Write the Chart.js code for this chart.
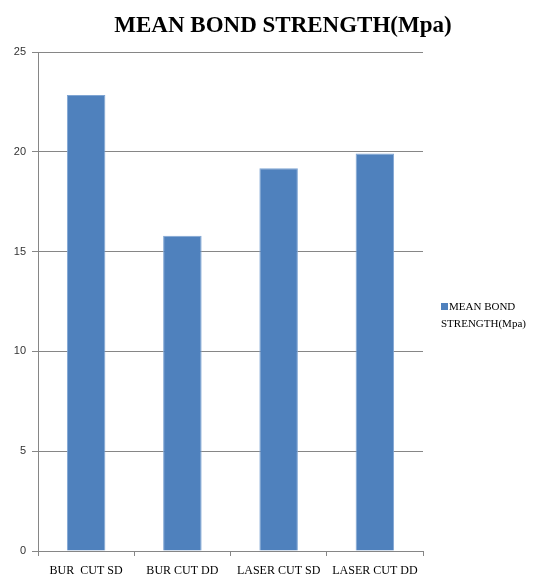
<!DOCTYPE html>
<html>
<head>
<meta charset="utf-8">
<script src="https://cdn.jsdelivr.net/npm/chart.js@4/dist/chart.umd.min.js"></script>
<style>
  html, body { margin: 0; padding: 0; background: #fff; }
  #wrap { position: relative; width: 554px; height: 576px; }
  #title { position: absolute; left: 0; top: 12px; width: 566px; text-align: center; font: bold 23px "Liberation Serif", serif; line-height: 26px; color: #000; }
  #legend { position: absolute; left: 441px; top: 298px; font: 11px "Liberation Serif", serif; color: #000; line-height: 17px; }
  #legend .box { display: inline-block; width: 7px; height: 7px; background: #4F81BD; margin-right: 1px; vertical-align: 0px; }
</style>
</head>
<body>
<div id="wrap">
  <canvas id="c" width="554" height="576"></canvas>
  <div id="title">MEAN BOND STRENGTH(Mpa)</div>
  <div id="legend"><span class="box"></span>MEAN BOND<br>STRENGTH(Mpa)</div>
</div>
<script>
  const categories = ['BUR  CUT SD', 'BUR CUT DD', 'LASER CUT SD', 'LASER CUT DD'];
  const seriesName = 'MEAN BOND STRENGTH(Mpa)';
  const values = [22.85, 15.8, 19.17, 19.92];
  const yTicks = [0, 5, 10, 15, 20, 25];

  const axisGray = '#868686';

  new Chart(document.getElementById('c'), {
    type: 'bar',
    data: {
      labels: categories,
      datasets: [{
        label: seriesName,
        data: values,
        backgroundColor: '#4F81BD',
        borderColor: '#7FA5D3',
        borderWidth: { top: 1, left: 1, right: 1, bottom: 0 },
        categoryPercentage: 1,
        barPercentage: 0.4,
      }]
    },
    options: {
      responsive: false,
      animation: false,
      layout: { padding: { left: 0, right: 131, top: 52, bottom: 0 } },
      plugins: {
        legend: { display: false },
        tooltip: { enabled: false },
        title: { display: false },
      },
      scales: {
        x: {
          afterFit: axis => { axis.height = 25; },
          grid: { display: true, drawOnChartArea: false, drawTicks: true, tickLength: 5, color: axisGray },
          border: { color: axisGray, width: 1 },
          ticks: { color: '#000', font: { family: 'Liberation Serif', size: 12 }, padding: 8, maxRotation: 0, autoSkip: false },
        },
        y: {
          min: 0,
          max: 25,
          afterBuildTicks: axis => { axis.ticks = yTicks.map(v => ({ value: v })); },
          afterFit: axis => { axis.width = 38; },
          grid: { color: axisGray, tickLength: 6 },
          border: { color: axisGray, width: 1 },
          ticks: { color: '#333', font: { family: 'Liberation Sans', size: 11 }, padding: 6 },
        },
      },
    },
  });
</script>
</body>
</html>
